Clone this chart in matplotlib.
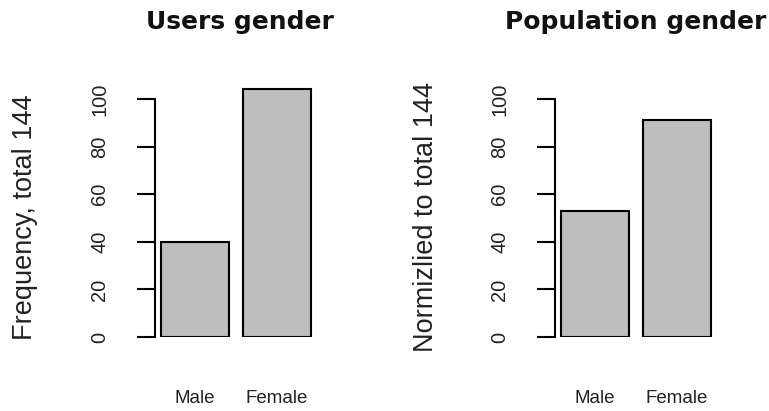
import matplotlib.pyplot as plt

# bar chart data
genders = ['Male', 'Female']
users_counts = [40, 104]
population_counts = [53, 91]
y_ticks = [0, 20, 40, 60, 80, 100]

plt.rcParams['font.family'] = ['Liberation Sans', 'DejaVu Sans']

W, H = 769, 411
fig = plt.figure(figsize=(W / 100, H / 100), dpi=100)

px_unit = 68.2      # pixels per bar-width unit
y_px_unit = 2.38    # pixels per count
x0 = 0.116


def panel(left_px, values, title, ylabel, title_x, ylabel_x):
    width_px = 163
    top_val = 110
    ax = fig.add_axes([left_px / W, (H - 337) / H, width_px / W, top_val * y_px_unit / H])
    ax.bar([0.7, 1.9], values, width=1.0, color='#bebebe', edgecolor='black', linewidth=1.5)
    ax.set_xlim(x0, x0 + width_px / px_unit)
    ax.set_ylim(0, top_val)
    for s in ['top', 'right', 'bottom']:
        ax.spines[s].set_visible(False)
    ax.spines['left'].set_bounds(0, 100)
    ax.spines['left'].set_linewidth(1.5)
    ax.set_yticks(y_ticks)
    ax.set_yticklabels([str(t) for t in y_ticks], rotation=90, va='center', ha='right',
                       fontsize=14.5, color='#222222')
    ax.tick_params(axis='y', length=13, width=1.5, pad=20)
    ax.set_xticks([0.7, 1.9])
    ax.set_xticklabels(genders, fontsize=13.5, color='#222222')
    ax.tick_params(axis='x', length=0, pad=38)
    fig.text(title_x / W, 1 - 22 / H, title, fontsize=18, fontweight='bold',
             family='DejaVu Sans', ha='center', va='center', color='#111111')
    fig.text(ylabel_x / W, 1 - 217 / H, ylabel, fontsize=19.5, rotation=90,
             ha='center', va='center', color='#222222')
    return ax


panel(155, users_counts, 'Users gender', 'Frequency, total 144', 240, 25)
panel(555, population_counts, 'Population gender', 'Normizlied to total 144', 636, 426)

fig.savefig('out.png', dpi=100)
